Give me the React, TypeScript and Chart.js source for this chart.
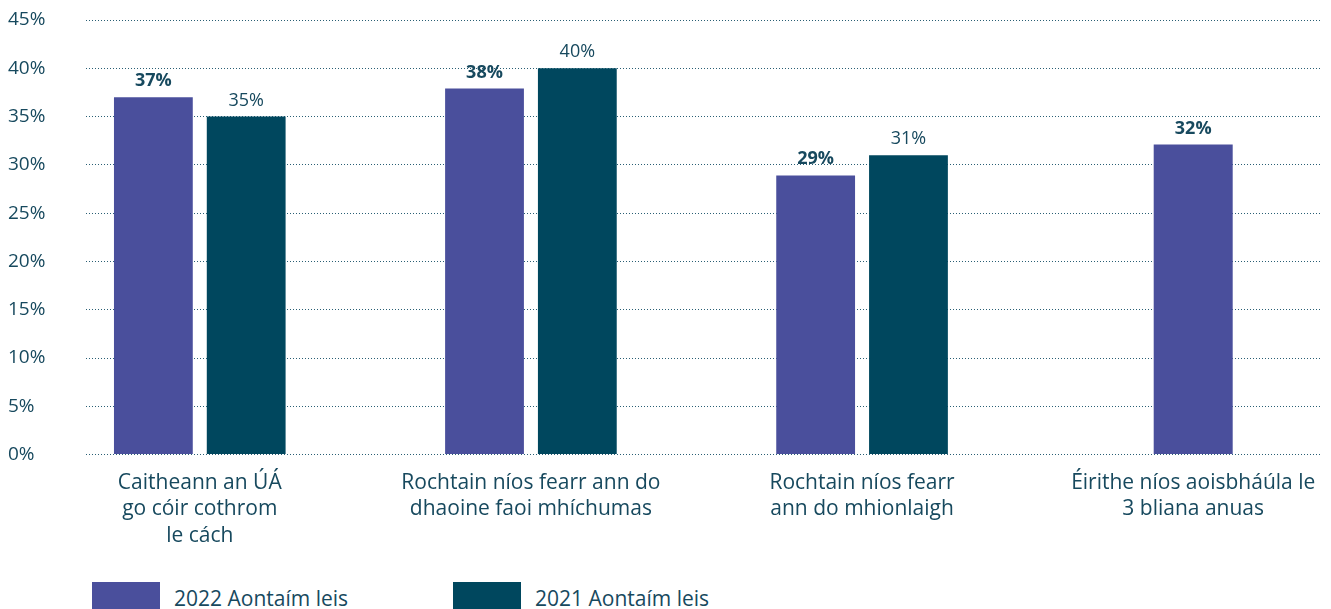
import React, { useEffect, useRef } from "react";
import { Chart, registerables } from "chart.js";

Chart.register(...registerables);

const categories: string[][] = [
  ["Caitheann an ÚÁ", "go cóir cothrom", "le cách"],
  ["Rochtain níos fearr ann do", "dhaoine faoi mhíchumas"],
  ["Rochtain níos fearr", "ann do mhionlaigh"],
  ["Éirithe níos aoisbháúla le", "3 bliana anuas"],
];

const seriesNames = ["2022 Aontaím leis", "2021 Aontaím leis"];
const values2022: (number | null)[] = [37, 37.9, 28.9, 32.1];
const values2021: (number | null)[] = [35, 40, 31, null];
const seriesColors = ["#4a4f9c", "#00475e"];

const yMin = 0;
const yMax = 45;
const yStep = 5;

// category-axis window (in category units) so the groups sit where the reference puts them
const xWindowStart = -0.3436;
const xWindowRange = 3.731;

const TEXT = "#17495e";
const GRID = "#2a5f74";
const FONT = "'Open Sans', 'DejaVu Sans', sans-serif";

const valueLabelPlugin = {
  id: "valueLabels",
  afterDatasetsDraw(chart: any) {
    const ctx = chart.ctx;
    ctx.save();
    chart.data.datasets.forEach((ds: any, di: number) => {
      const meta = chart.getDatasetMeta(di);
      meta.data.forEach((bar: any, i: number) => {
        const v = ds.data[i];
        if (v === null || v === undefined) return;
        ctx.font = `${di === 0 ? "700" : "400"} 18px ${FONT}`;
        ctx.fillStyle = TEXT;
        ctx.textAlign = "center";
        ctx.textBaseline = "alphabetic";
        ctx.fillText(`${Math.round(v)}%`, bar.x, bar.y - 11);
      });
    });
    ctx.restore();
  },
};

export default function App() {
  const canvasRef = useRef<HTMLCanvasElement | null>(null);

  useEffect(() => {
    if (!canvasRef.current) return;
    const chart = new Chart(canvasRef.current, {
      type: "bar",
      data: {
        labels: categories,
        datasets: [
          {
            label: seriesNames[0],
            data: values2022,
            backgroundColor: seriesColors[0],
            borderWidth: 0,
          },
          {
            label: seriesNames[1],
            data: values2021,
            backgroundColor: seriesColors[1],
            borderWidth: 0,
          },
        ],
      },
      options: {
        animation: false,
        responsive: true,
        maintainAspectRatio: false,
        datasets: {
          bar: {
            categoryPercentage: 0.5606,
            barPercentage: 0.849,
            maxBarThickness: 79,
            skipNull: true,
          },
        },
        layout: { padding: { left: 8, right: 7, top: 20, bottom: 0 } },
        plugins: {
          legend: { display: false },
          tooltip: { enabled: false },
        },
        scales: {
          x: {
            afterBuildTicks(scale: any) {
              scale._startValue = xWindowStart;
              scale._valueRange = xWindowRange;
            },
            grid: { display: false, drawTicks: false },
            border: { display: false },
            ticks: {
              color: TEXT,
              font: { family: FONT, size: 21, lineHeight: 1.26 },
              padding: 15,
              maxRotation: 0,
              autoSkip: false,
            },
          },
          y: {
            min: yMin,
            max: yMax,
            afterFit(scale: any) {
              scale.width = 78;
            },
            grid: { color: GRID, lineWidth: 1, drawTicks: false },
            border: { display: false, dash: [1, 2] },
            ticks: {
              stepSize: yStep,
              color: TEXT,
              crossAlign: "far",
              padding: 0,
              font: { family: FONT, size: 19 },
              callback: (v: any) => `${v}%`,
            },
          },
        },
      },
      plugins: [valueLabelPlugin],
    });
    return () => chart.destroy();
  }, []);

  const legendItems = seriesNames.map((name, i) => ({ name, color: seriesColors[i] }));
  const legendLefts = [92, 453];

  return (
    <div
      style={{
        position: "fixed",
        left: 0,
        top: 0,
        width: 1331,
        height: 609,
        overflow: "hidden",
        background: "#ffffff",
      }}
    >
      <div style={{ position: "absolute", left: 0, top: 0, width: 1331, height: 564 }}>
        <canvas ref={canvasRef} />
      </div>
      {legendItems.map((it, i) => (
        <div
          key={it.name}
          style={{
            position: "absolute",
            left: legendLefts[i],
            top: 582,
            display: "flex",
            alignItems: "flex-start",
            whiteSpace: "nowrap",
          }}
        >
          <div style={{ width: 68, height: 30, background: it.color }} />
          <div
            style={{
              marginLeft: 14,
              fontFamily: FONT,
              fontSize: 21,
              lineHeight: "30px",
              color: TEXT,
              marginTop: 1,
            }}
          >
            {it.name}
          </div>
        </div>
      ))}
    </div>
  );
}
